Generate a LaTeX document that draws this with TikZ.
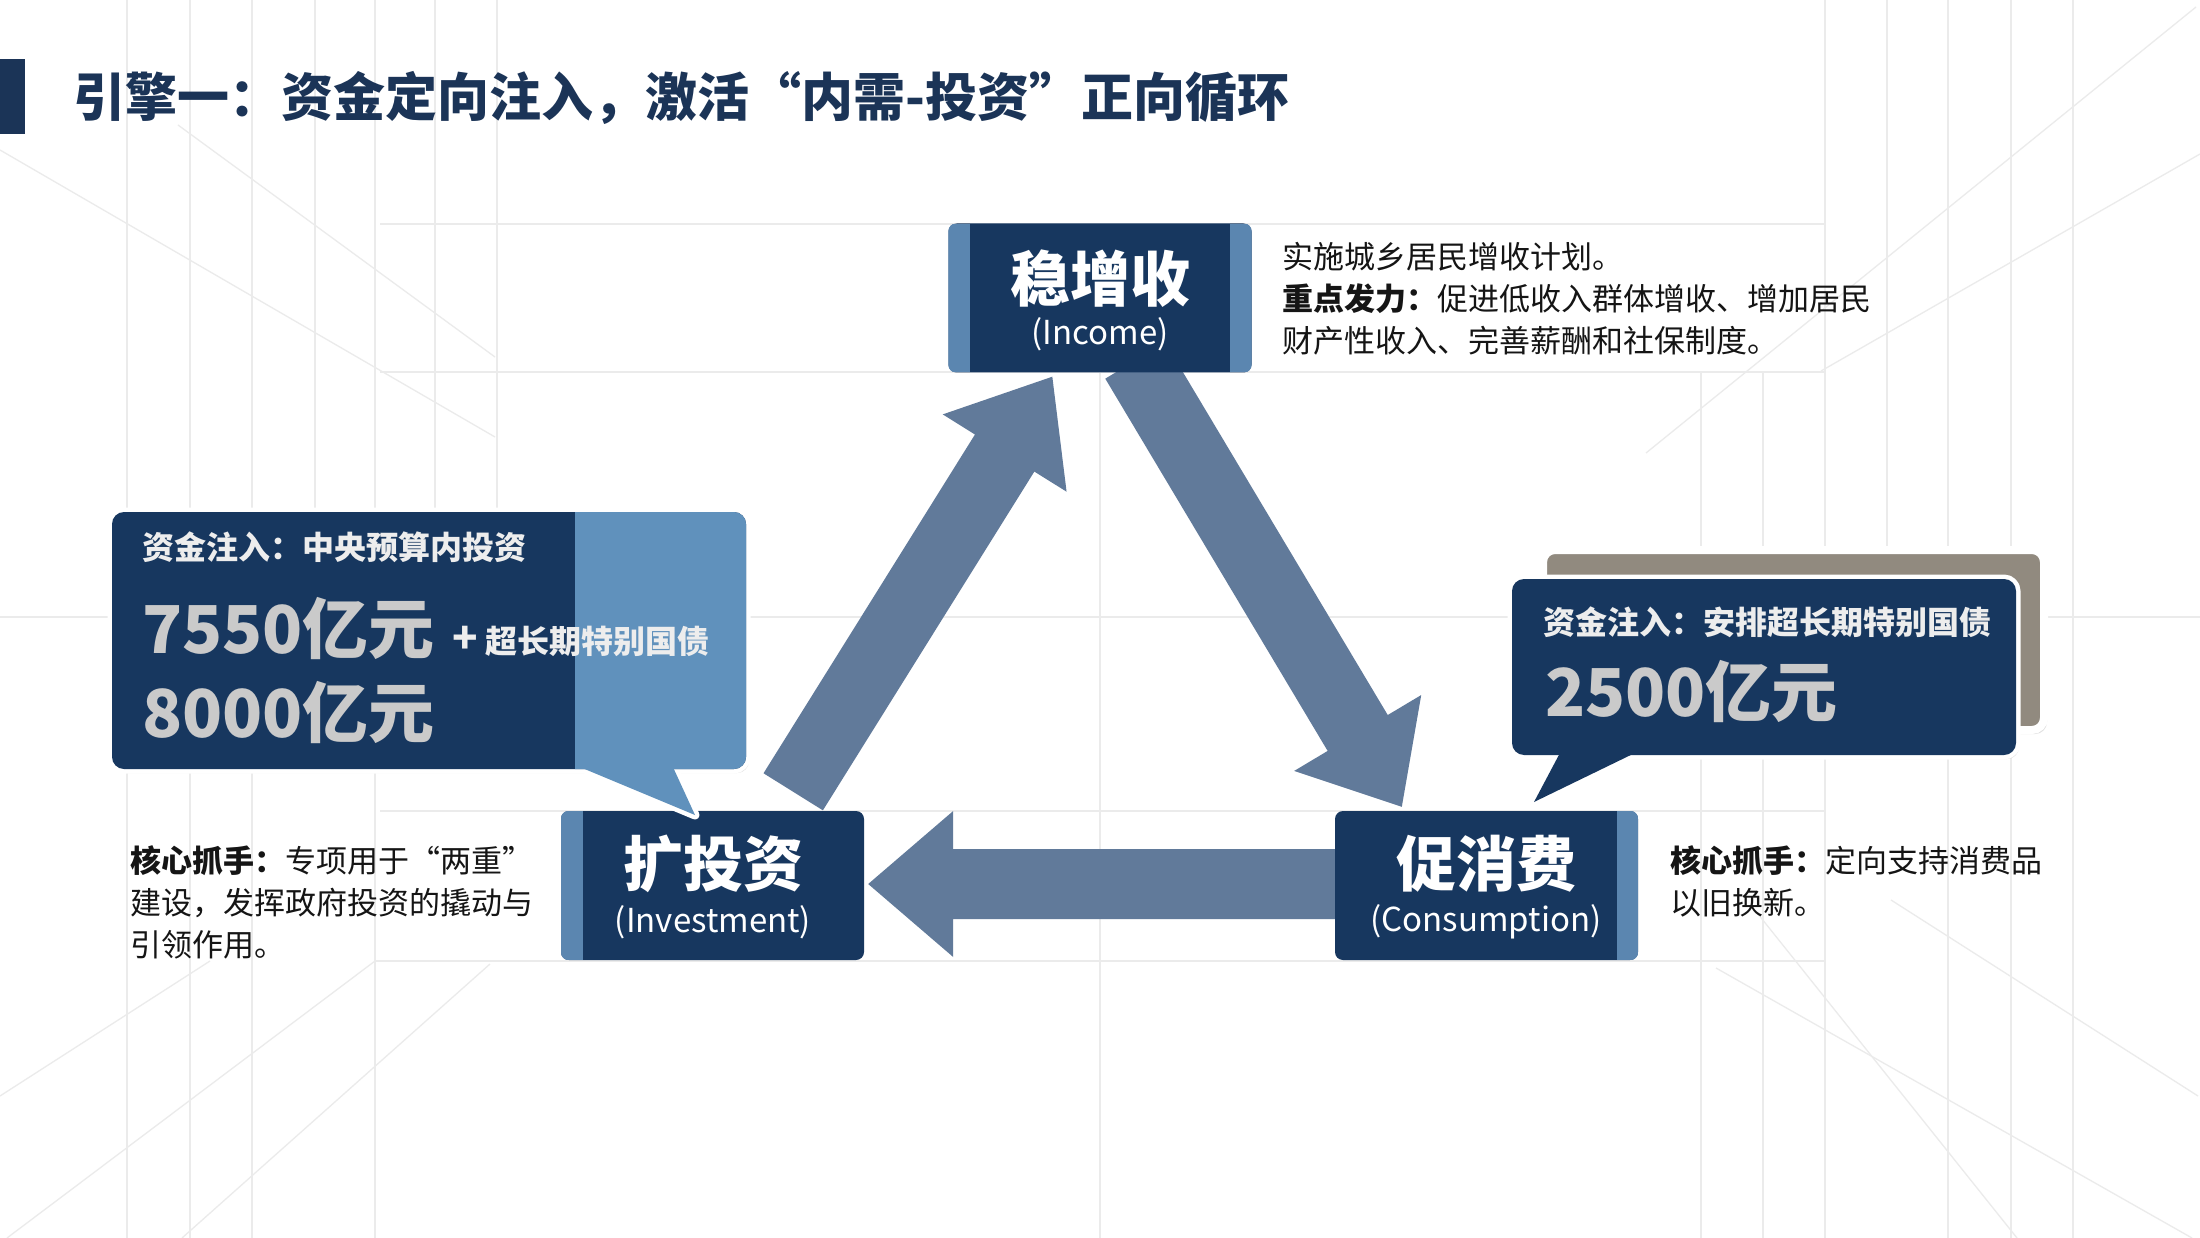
\documentclass[tikz,border=0pt]{standalone}
\usepackage{fontspec}
\setmainfont{Noto Sans CJK SC}
\usetikzlibrary{calc,shadows}
\definecolor{navy}{HTML}{17375F}
\definecolor{titlec}{HTML}{1B3457}
\definecolor{strip}{HTML}{5B86B0}
\definecolor{calllight}{HTML}{6091BC}
\definecolor{arrowc}{HTML}{617A9A}
\definecolor{taupe}{HTML}{918A7F}
\definecolor{numc}{HTML}{CACACA}
\definecolor{gridc}{HTML}{EBEBEB}
\definecolor{txt}{HTML}{151515}
\definecolor{ctext}{HTML}{EDEDED}
\newcommand{\fsz}[1]{\fontsize{#1}{#1}\selectfont}
\newcommand{\blockarrow}[5]{%
  \coordinate (hb) at ($(#2)!#5!(#1)$);
  \fill[arrowc] ($(#1)!#3!90:(#2)$) -- ($(hb)!#3!90:(#2)$) -- ($(hb)!#4!90:(#2)$) -- (#2)
    -- ($(hb)!#4!-90:(#2)$) -- ($(hb)!#3!-90:(#2)$) -- ($(#1)!#3!-90:(#2)$) -- cycle;}
\pgfdeclarelayer{grid}
\pgfdeclarelayer{bg}
\pgfsetlayers{grid,bg,main}
\tikzset{
  box/.style={fill=navy, rounded corners=8pt, minimum width=303pt, minimum height=149pt, inner sep=0pt, draw=none},
  lab/.style={text=white, inner sep=0pt},
  desc/.style={font=\fontsize{31}{42}\selectfont, align=left, text=txt, inner sep=0pt, anchor=west},
  ctitle/.style={font=\fsz{32}\bfseries, text=ctext, inner sep=0pt, anchor=west},
  num/.style={font=\fsz{66}\bfseries, text=numc, inner sep=0pt, anchor=west},
  gline/.style={draw=gridc, line width=1.3pt},
}
\begin{document}
\begin{tikzpicture}[x=1pt,y=-1pt]
\useasboundingbox (0,0) rectangle (2200,1238);

% background grid
\begin{pgfonlayer}{grid}
\fill[white] (0,0) rectangle (2200,1238);
\foreach \x in {127,190,252,375,1825,1948,2011,2073} \draw[gline] (\x,0) -- (\x,1238);
\foreach \x in {315,435,497} \draw[gline] (\x,0) -- (\x,512);
\foreach \x in {1701,1763} \draw[gline] (\x,372) -- (\x,1238);
\draw[gline] (1887,0) -- (1887,560);
\draw[gline] (1100,372) -- (1100,1238);
\draw[gline] (380,224) -- (1825,224);
\draw[gline] (380,372) -- (1825,372);
\draw[gline] (0,617) -- (2200,617);
\draw[gline] (380,811) -- (1825,811);
\draw[gline] (375,961) -- (1825,961);
\draw[gline] (0,150) -- (495,437);
\draw[gline] (178,125) -- (495,357);
\draw[gline] (0,1096) -- (210,961);
\draw[gline] (7,1238) -- (375,961);
\draw[gline] (182,1238) -- (490,964);
\draw[gline] (2196,7) -- (1646,453);
\draw[gline] (2200,154) -- (1821,371);
\draw[gline] (1891,900) -- (2198,1096);
\draw[gline] (1758,914) -- (2017,1238);
\draw[gline] (1716,968) -- (2192,1238);
\end{pgfonlayer}

% title
\fill[titlec] (0,59) rectangle (25,134);
\node[anchor=west, font=\fsz{52}\bfseries, text=titlec, inner sep=0pt] (title) at (73,98) {引擎一：资金定向注入，激活“内需-投资”正向循环};

% boxes
\node[box] (inc) at (1100,298) {};
\node[box] (inv) at (712.5,885.5) {};
\node[box] (con) at (1486.5,885.5) {};
\begin{scope}
  \clip[rounded corners=8pt] (inc.south west) rectangle (inc.north east);
  \fill[strip] (948,224) rectangle (970,372);
  \fill[strip] (1230,224) rectangle (1252,372);
\end{scope}
\begin{scope}
  \clip[rounded corners=8pt] (inv.south west) rectangle (inv.north east);
  \fill[strip] (561,811) rectangle (583,960);
\end{scope}
\begin{scope}
  \clip[rounded corners=8pt] (con.south west) rectangle (con.north east);
  \fill[strip] (1617,811) rectangle (1639,960);
\end{scope}
\node[lab, font=\fsz{60}\bfseries] (incT) at (1100,279) {稳增收};
\node[lab, font=\fsz{33}] (incE) at (1100,334) {(Income)};
\node[lab, font=\fsz{60}\bfseries] (invT) at (713,864) {扩投资};
\node[lab, font=\fsz{33}] (invE) at (713,922) {(Investment)};
\node[lab, font=\fsz{60}\bfseries] (conT) at (1486,864) {促消费};
\node[lab, font=\fsz{33}] (conE) at (1486,922) {(Consumption)};

% arrows between boxes
\coordinate (a1s) at ($(inv.north east)+(-71,-19)$);
\coordinate (a1e) at ($(inc.south west)+(104,4)$);
\coordinate (a2s) at ($(inc.south west)+(187,-12)$);
\coordinate (a2e) at ($(con.north west)+(67,-4)$);
\coordinate (a3s) at ($(con.west)+(16,-1.5)$);
\coordinate (a3e) at ($(inv.east)+(4,-1.5)$);
\begin{pgfonlayer}{bg}
  \blockarrow{a1s}{a1e}{35pt}{73pt}{90pt}
  \blockarrow{a2s}{a2e}{35pt}{74pt}{86pt}
  \blockarrow{a3s}{a3e}{35pt}{73pt}{85pt}
\end{pgfonlayer}

% descriptions
\node[desc] (incD) at (1282,299) {实施城乡居民增收计划。\\{\bfseries 重点发力：}促进低收入群体增收、增加居民\\财产性收入、完善薪酬和社保制度。};
\node[desc] (invD) at (130,902) {{\bfseries 核心抓手：}专项用于“两重”\\建设，发挥政府投资的撬动与\\引领作用。};
\node[desc] (conD) at (1670,881) {{\bfseries 核心抓手：}定向支持消费品\\以旧换新。};

% left callout
\path[fill=white, draw=white, line width=9pt, line join=round, drop shadow={opacity=0.25, shadow xshift=3pt, shadow yshift=-4pt}]
  [rounded corners=12pt] (112,512) rectangle (746,769);
\path[fill=white, draw=white, line width=9pt, line join=round] (575,765) -- (695,815) -- (672,765) -- cycle;
\fill[navy, rounded corners=12pt] (112,512) rectangle (746,769);
\begin{scope}
  \clip[rounded corners=12pt] (112,512) rectangle (746,769);
  \fill[calllight] (575,500) rectangle (760,780);
\end{scope}
\fill[calllight] (575,765) -- (695,815) -- (672,765) -- cycle;
\node[ctitle] (lcT) at (142,547) {资金注入：中央预算内投资};
\node[num] (lcN1) at (142,629) {7550亿元};
\node[ctitle] (lcP) at (452,641) {{\fsz{42}+}\hspace{8pt}超长期特别国债};
\node[num] (lcN2) at (142,713) {8000亿元};

% right callout
\path[fill=taupe, draw=white, line width=8pt, drop shadow={opacity=0.25, shadow xshift=3pt, shadow yshift=-4pt}]
  [rounded corners=12pt] (1543,550) rectangle (2044,730);
\path[fill=white, draw=white, line width=9pt, line join=round, drop shadow={opacity=0.25, shadow xshift=3pt, shadow yshift=-4pt}]
  [rounded corners=12pt] (1512,579) rectangle (2016,755);
\path[fill=white, draw=white, line width=9pt, line join=round] (1561,751) -- (1534,802) -- (1639,751) -- cycle;
\fill[navy, rounded corners=12pt] (1512,579) rectangle (2016,755);
\fill[navy] (1561,751) -- (1534,802) -- (1639,751) -- cycle;
\node[ctitle] (rcT) at (1543,622) {资金注入：安排超长期特别国债};
\node[num] (rcN) at (1545,692) {2500亿元};
\end{tikzpicture}
\end{document}
